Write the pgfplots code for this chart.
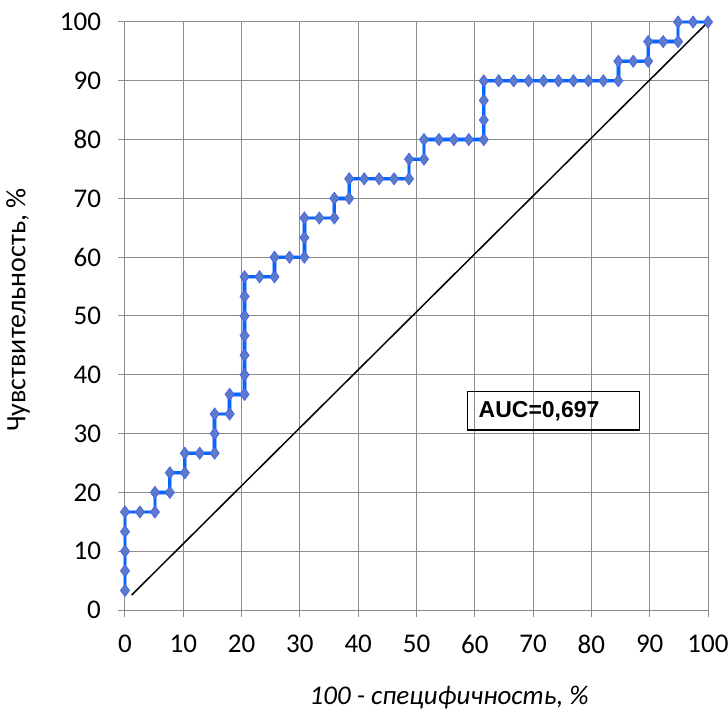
\documentclass[border=0pt]{standalone}
\usepackage{pgfplots}
\pgfplotsset{compat=1.18}
\usepackage{fontspec}
\setmainfont{Carlito}
\newfontfamily\arialfont{Liberation Sans}
\definecolor{rocline}{RGB}{0,104,255}
\definecolor{rochalo}{RGB}{150,185,255}
\definecolor{rocfill}{RGB}{92,124,200}
\definecolor{rocedge}{RGB}{70,100,235}
\definecolor{gridgray}{RGB}{140,140,140}

\pgfplotstableread{
x y
0 3.33
0 6.67
0 10
0 13.33
0 16.67
2.56 16.67
5.13 16.67
5.13 20
7.69 20
7.69 23.33
10.26 23.33
10.26 26.67
12.82 26.67
15.38 26.67
15.38 30
15.38 33.33
17.95 33.33
17.95 36.67
20.51 36.67
20.51 40
20.51 43.33
20.51 46.67
20.51 50
20.51 53.33
20.51 56.67
23.08 56.67
25.64 56.67
25.64 60
28.21 60
30.77 60
30.77 63.33
30.77 66.67
33.33 66.67
35.90 66.67
35.90 70
38.46 70
38.46 73.33
41.03 73.33
43.59 73.33
46.15 73.33
48.72 73.33
48.72 76.67
51.28 76.67
51.28 80
53.85 80
56.41 80
58.97 80
61.54 80
61.54 83.33
61.54 86.67
61.54 90
64.10 90
66.67 90
69.23 90
71.79 90
74.36 90
76.92 90
79.49 90
82.05 90
84.62 90
84.62 93.33
87.18 93.33
89.74 93.33
89.74 96.67
92.31 96.67
94.87 96.67
94.87 100
97.44 100
100 100
}\roctable

\begin{document}
\begin{tikzpicture}
\begin{axis}[
  scale only axis,
  width=291.5pt, height=294pt,
  xmin=0, xmax=100, ymin=0, ymax=100,
  xtick={0,10,...,100}, ytick={0,10,...,100},
  grid=major,
  grid style={gridgray, line width=0.5pt},
  axis line style={gridgray, line width=0.5pt},
  tick style={gridgray, line width=0.5pt},
  tick align=outside,
  major tick length=3.5pt,
  xtick pos=left, ytick pos=left,
  /pgf/number format/assume math mode=true,
  ticklabel style={font=\fontsize{13.5}{15}\selectfont, text=black},
  xticklabel style={yshift=-5.5pt},
  yticklabel style={xshift=-5pt},
  xlabel={\itshape 100 - специфичность, \%},
  ylabel={Чувствительность, \%},
  xlabel style={at={(axis description cs:0.556,-0.148)}, anchor=center, font=\fontsize{13.5}{15}\selectfont},
  ylabel style={at={(axis description cs:-0.1835,0.51)}, anchor=center, rotate=0, font=\fontsize{14}{16}\selectfont},
  clip=false,
]
% chance diagonal
\addplot[black, line width=0.75pt] coordinates {(1.15,2.55) (100,100)};
% ROC curve: soft halo under the main line
\addplot[rochalo, line width=2.2pt, no marks] table {\roctable};
\addplot[rocline, line width=1.4pt, mark=diamond*, mark size=3pt,
  mark options={fill=rocfill, draw=rocedge, line width=0.4pt}] table {\roctable};
% AUC annotation box
\draw[black, line width=0.6pt] (axis cs:58.7,37.1) rectangle (axis cs:88.2,30.6);
\node[anchor=west, inner sep=0pt, font=\arialfont\bfseries\fontsize{11.5}{13}\selectfont]
  at (axis cs:60.6,33.85) {AUC=0,697};
\coordinate (O) at (rel axis cs:0,0);
\end{axis}
\pgfresetboundingbox
\path[use as bounding box] (O) ++(-62.5pt,-51pt) rectangle ++(364pt,356pt);
\end{tikzpicture}
\end{document}
